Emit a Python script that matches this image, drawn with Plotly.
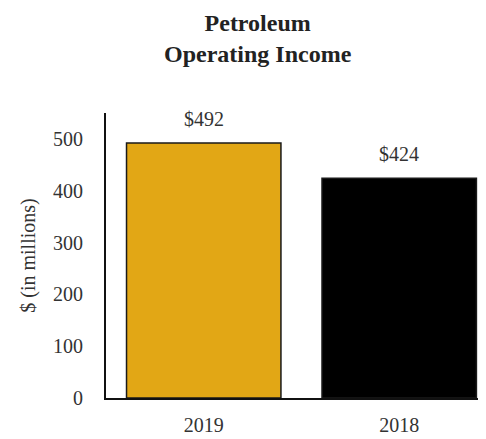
import plotly.graph_objects as go

categories = ["2019", "2018"]
values = [492, 424]
labels = ["$492", "$424"]
colors = ["#E2A715", "#000000"]
y_ticks = [0, 100, 200, 300, 400, 500]

serif = "Liberation Serif, Times New Roman, serif"
txt = "#333333"

fig = go.Figure(go.Bar(
    x=categories, y=values,
    marker=dict(color=colors, line=dict(color="#1a1a1a", width=1.5)),
    width=0.79,
))

for i, (v, lab) in enumerate(zip(values, labels)):
    fig.add_annotation(x=i, y=v, text=lab, showarrow=False, yanchor="middle",
                       yshift=24, font=dict(family=serif, size=20, color=txt))

fig.add_annotation(text="<b>Petroleum<br>Operating Income</b>", xref="paper", yref="paper",
                   x=0.4, y=1.26, xanchor="center", yanchor="middle", showarrow=False,
                   font=dict(family=serif, size=24, color="#222222"))

fig.update_layout(
    width=478, height=431,
    margin=dict(l=98, r=0, t=105, b=41),
    paper_bgcolor="white", plot_bgcolor="white",
    showlegend=False,
    xaxis=dict(type="category", range=[-0.5, 1.444], showline=True, linecolor="#111111", linewidth=2,
               ticks="", ticklabelstandoff=8, showgrid=False, automargin=False,
               tickfont=dict(family=serif, size=20, color=txt)),
    yaxis=dict(range=[0, 550], showline=True, linecolor="#111111", linewidth=2,
               tickvals=y_ticks, ticks="", ticklabelstandoff=17, showgrid=False, zeroline=False,
               automargin=False,
               tickfont=dict(family=serif, size=20, color=txt),
               title=dict(text="$ (in millions)", standoff=12,
                          font=dict(family=serif, size=20, color=txt))),
)

fig.write_html("out.html")
